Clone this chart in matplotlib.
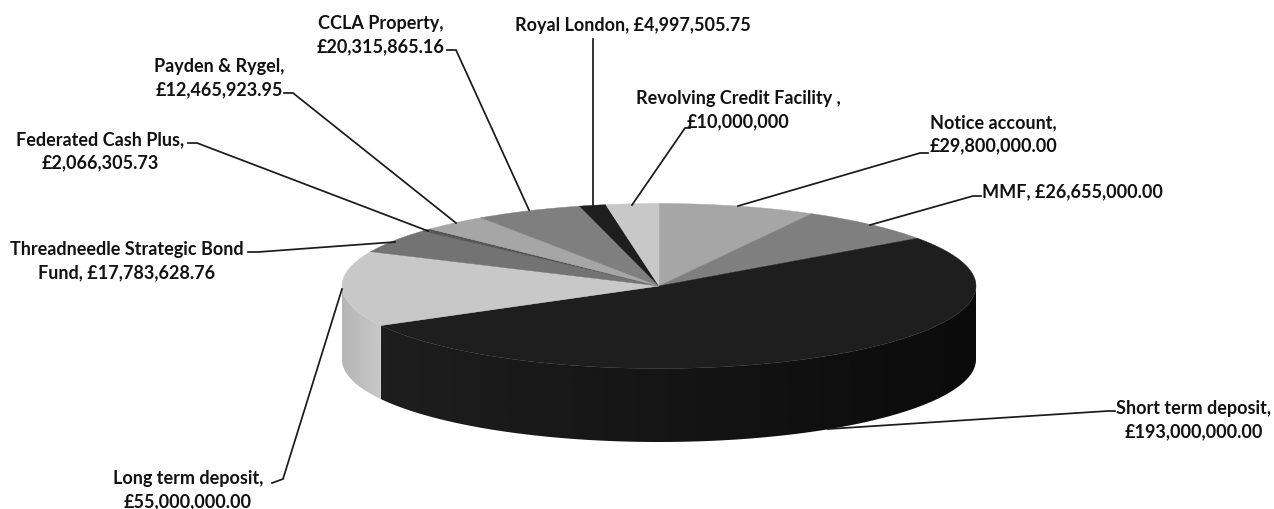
import matplotlib
matplotlib.use('Agg')
import matplotlib.pyplot as plt
from matplotlib.patches import Polygon
import numpy as np

# clockwise from 12 o'clock
categories = ['Notice account', 'MMF', 'Short term deposit', 'Long term deposit',
              'Threadneedle Strategic Bond Fund', 'Federated Cash Plus', 'Payden & Rygel',
              'CCLA Property', 'Royal London', 'Revolving Credit Facility']
values = [29800000.00, 26655000.00, 193000000.00, 55000000.00, 17783628.76,
          2066305.73, 12465923.95, 20315865.16, 4997505.75, 10000000]
labels = ['Notice account,\n£29,800,000.00', 'MMF, £26,655,000.00',
          'Short term deposit,\n£193,000,000.00', 'Long term deposit,\n£55,000,000.00',
          'Threadneedle Strategic Bond\nFund, £17,783,628.76', 'Federated Cash Plus,\n£2,066,305.73',
          'Payden & Rygel,\n£12,465,923.95', 'CCLA Property,\n£20,315,865.16',
          'Royal London, £4,997,505.75', 'Revolving Credit Facility ,\n£10,000,000']
top_colors = ['#a6a6a6', '#7f7f7f', '#1e1e1e', '#c8c8c8', '#737373',
              '#565656', '#a6a6a6', '#7f7f7f', '#1e1e1e', '#c8c8c8']

label_pos = [(993, 134), (1072, 192), (1194, 420), (188, 490), (127, 261),
             (100, 151), (219, 78), (381, 35), (633, 25), (738, 110)]
leaders = [
    [(738, 207), (920, 154), (928, 154)],
    [(870, 226), (973, 197), (981, 197)],
    [(828, 430), (1108, 412), (1115, 412)],
    [(342, 290), (283, 480), (272, 484)],
    [(395, 243), (258, 253), (248, 253)],
    [(428, 232), (197, 144), (188, 144)],
    [(456, 224), (293, 94), (284, 94)],
    [(529, 211), (456, 51), (447, 51)],
    [(593, 207), (593, 40)],
    [(632, 206), (685, 129), (690, 129)],
]

cx, cy, rx, ry, depth = 659, 287, 317, 82.5, 73.5


def rim(theta):
    return cx + rx * np.sin(theta), cy - ry * np.cos(theta)


fig = plt.figure(figsize=(12.74, 5.10), dpi=100)
ax = fig.add_axes([0, 0, 1, 1])

edges = np.concatenate([[0], np.cumsum(values)]) / sum(values) * 2 * np.pi

# side wall, only the front half shows; a gradient image clipped to each piece
split = edges[3]
for a, b, c_left, c_right in [(np.pi / 2, split, 0.118, 0.043), (split, 1.5 * np.pi, 0.71, 0.784)]:
    t = np.linspace(a, b, 300)
    x, y = rim(t)
    outline = np.c_[np.r_[x, x[::-1]], np.r_[y, y[::-1] + depth]]
    img = np.linspace(c_left, c_right, 256).reshape(1, -1)
    im = ax.imshow(img, cmap='gray', vmin=0, vmax=1, aspect='auto', zorder=2,
                   extent=(x.min(), x.max(), y.max() + depth, y.min()))
    im.set_clip_path(Polygon(outline, transform=ax.transData))

# top face
for i in range(len(values)):
    t = np.linspace(edges[i], edges[i + 1], 200)
    x, y = rim(t)
    ax.fill(np.r_[cx, x], np.r_[cy, y], color=top_colors[i], lw=0.3, zorder=3)

for path in leaders:
    xs, ys = zip(*path)
    ax.plot(xs, ys, color='#1a1a1a', lw=1.25, zorder=4, solid_joinstyle='miter')

for text, (x, y) in zip(labels, label_pos):
    ax.text(x, y, text, ha='center', va='center', family='Lato', weight='bold',
            fontsize=13, color='#111111', linespacing=1.4, zorder=5)

ax.set_xlim(0, 1274)
ax.set_ylim(510, 0)
ax.axis('off')

fig.savefig('out.png', dpi=100)
